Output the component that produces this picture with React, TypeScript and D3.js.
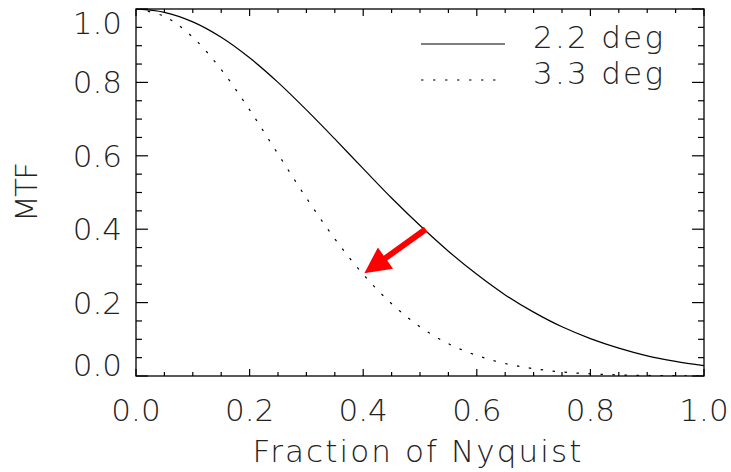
import { useEffect, useRef } from "react";
import * as d3 from "d3";

// spatial frequency (fraction of Nyquist)
const freq = [0, 0.05, 0.1, 0.15, 0.2, 0.25, 0.3, 0.35, 0.4, 0.45, 0.5, 0.55, 0.6, 0.65, 0.7, 0.75, 0.8, 0.85, 0.9, 0.95, 1.0];
// MTF
const mtf22 = [1.0, 0.991, 0.965, 0.923, 0.867, 0.8, 0.725, 0.646, 0.565, 0.485, 0.41, 0.34, 0.277, 0.221, 0.174, 0.134, 0.102, 0.076, 0.055, 0.04, 0.028];
const mtf33 = [1.0, 0.98, 0.923, 0.835, 0.725, 0.605, 0.485, 0.374, 0.277, 0.197, 0.134, 0.088, 0.056, 0.034, 0.02, 0.011, 0.006, 0.003, 0.0015, 0.0007, 0.0003];
const seriesNames = ["2.2 deg", "3.3 deg"];
const xTicks = [0, 0.2, 0.4, 0.6, 0.8, 1.0];
const yTicks = [0, 0.2, 0.4, 0.6, 0.8, 1.0];
// red arrow: from the 2.2 deg curve to the 3.3 deg curve
const arrowFrom = [0.51, 0.4];
const arrowTo = [0.402, 0.28];

const FONT = "'DejaVu Sans', sans-serif";

function MtfChart() {
  const ref = useRef<SVGSVGElement>(null);

  useEffect(() => {
    const svg = d3.select(ref.current);
    svg.selectAll("*").remove();

    const left = 136, right = 704, top = 9, bottom = 376;
    const x = d3.scaleLinear().domain([0, 1]).range([left, right]);
    const y = d3.scaleLinear().domain([0, 1]).range([bottom, top]);

    svg
      .append("defs")
      .append("clipPath")
      .attr("id", "plotclip")
      .append("rect")
      .attr("x", left)
      .attr("y", top)
      .attr("width", right - left)
      .attr("height", bottom - top);

    // curves
    const line = d3
      .line<number>()
      .x((d, i) => x(freq[i]))
      .y((d) => y(d))
      .curve(d3.curveCatmullRom);

    const g = svg.append("g").attr("clip-path", "url(#plotclip)");
    g.append("path")
      .attr("d", line(mtf22))
      .attr("fill", "none")
      .attr("stroke", "#000")
      .attr("stroke-width", 1.2);
    g.append("path")
      .attr("d", line(mtf33))
      .attr("fill", "none")
      .attr("stroke", "#000")
      .attr("stroke-width", 1.2)
      .attr("stroke-dasharray", "2.5,9.5");

    // box + ticks on all sides
    const axisCol = "#000";
    svg
      .append("rect")
      .attr("x", left)
      .attr("y", top)
      .attr("width", right - left)
      .attr("height", bottom - top)
      .attr("fill", "none")
      .attr("stroke", axisCol)
      .attr("stroke-width", 1.3);

    const minor = d3.range(0, 1.0001, 0.05);
    const isMajor = (v: number) => Math.abs(v * 5 - Math.round(v * 5)) < 1e-6;
    const ticks = svg.append("g").attr("stroke", axisCol).attr("stroke-width", 1.2);
    minor.forEach((v) => {
      const xl = isMajor(v) ? 7 : 4;
      const yl = isMajor(v) ? 12 : 6;
      ticks.append("line").attr("x1", x(v)).attr("x2", x(v)).attr("y1", bottom).attr("y2", bottom - xl);
      ticks.append("line").attr("x1", x(v)).attr("x2", x(v)).attr("y1", top).attr("y2", top + xl);
      ticks.append("line").attr("y1", y(v)).attr("y2", y(v)).attr("x1", left).attr("x2", left + yl);
      ticks.append("line").attr("y1", y(v)).attr("y2", y(v)).attr("x1", right).attr("x2", right - yl);
    });

    const txt = (sel: any) =>
      sel.attr("font-family", FONT).attr("font-weight", 200).attr("fill", "#222").attr("font-size", 31);

    // x tick labels
    xTicks.forEach((v) => {
      svg.append("text").call(txt).attr("x", x(v)).attr("y", 421).attr("text-anchor", "middle").text(v.toFixed(1));
    });
    // y tick labels (edge labels nudged inside like the original)
    yTicks.forEach((v) => {
      const cy = Math.max(23, Math.min(365, y(v)));
      svg.append("text").call(txt).attr("x", 122).attr("y", cy + 11).attr("text-anchor", "end").text(v.toFixed(1));
    });

    // axis titles
    svg
      .append("text")
      .call(txt)
      .attr("x", 417)
      .attr("y", 462)
      .attr("text-anchor", "middle")
      .attr("textLength", 329)
      .attr("lengthAdjust", "spacing")
      .text("Fraction of Nyquist");
    svg
      .append("text")
      .call(txt)
      .attr("transform", "translate(37,192) rotate(-90)")
      .attr("text-anchor", "middle")
      .attr("textLength", 60)
      .attr("lengthAdjust", "spacing")
      .text("MTF");

    // legend
    const legY = [44, 80];
    seriesNames.forEach((name, i) => {
      svg
        .append("line")
        .attr("x1", 421)
        .attr("x2", 505)
        .attr("y1", legY[i])
        .attr("y2", legY[i])
        .attr("stroke", "#000")
        .attr("stroke-width", 1.2)
        .attr("stroke-dasharray", i === 1 ? "2.5,9.5" : null);
      svg
        .append("text")
        .call(txt)
        .attr("x", 533)
        .attr("y", legY[i] + 3.5)
        .attr("textLength", 130)
        .attr("lengthAdjust", "spacing")
        .text(name);
    });

    // red arrow
    const x0 = x(arrowFrom[0]), y0 = y(arrowFrom[1]);
    const x1 = x(arrowTo[0]), y1 = y(arrowTo[1]);
    const len = Math.hypot(x1 - x0, y1 - y0);
    const ux = (x1 - x0) / len, uy = (y1 - y0) / len;
    const px = -uy, py = ux;
    const headL = 26, headW = 13, shaftW = 3;
    const bx = x1 - ux * headL, by = y1 - uy * headL;
    const pts = [
      [x0 + px * shaftW, y0 + py * shaftW],
      [bx + px * shaftW, by + py * shaftW],
      [bx + px * headW, by + py * headW],
      [x1, y1],
      [bx - px * headW, by - py * headW],
      [bx - px * shaftW, by - py * shaftW],
      [x0 - px * shaftW, y0 - py * shaftW],
    ];
    svg
      .append("polygon")
      .attr("points", pts.map((p) => p.join(",")).join(" "))
      .attr("fill", "#ff0000");
  }, []);

  return (
    <svg
      ref={ref}
      width={731}
      height={472}
      style={{ position: "absolute", left: 0, top: 0, background: "#fff" }}
    ></svg>
  );
}

export default function App() {
  return <MtfChart />;
}
